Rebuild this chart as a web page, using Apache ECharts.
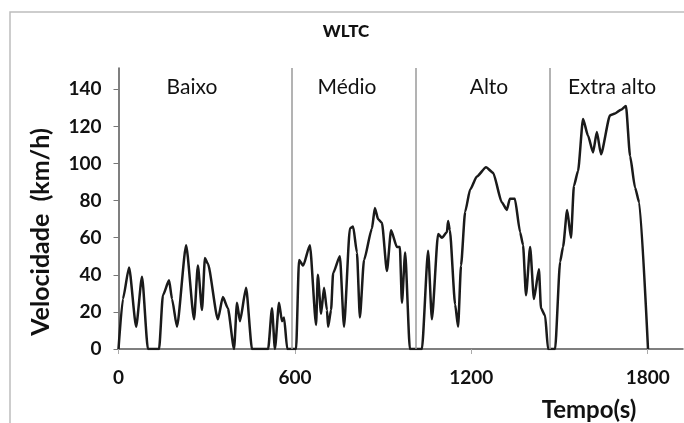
<!DOCTYPE html>
<html><head><meta charset="utf-8">
<script src="https://cdn.jsdelivr.net/npm/echarts@6/dist/echarts.min.js"></script>
<style>html,body{margin:0;padding:0;background:#fff}#c{width:684px;height:423px}</style>
</head><body><div id="c"></div>
<script>
const timeS = [0,15,36,60,80,100,138,151,172,182,199,230,257,270,284,294,304,338,355,372,393,403,413,434,454,509,522,532,546,556,563,574,604,614,628,651,672,678,689,699,709,713,723,730,753,767,787,798,811,821,835,862,872,883,896,913,927,947,957,964,975,991,1032,1053,1066,1087,1100,1117,1121,1127,1145,1155,1165,1179,1196,1219,1250,1274,1304,1321,1331,1348,1366,1376,1386,1400,1413,1430,1437,1451,1461,1485,1502,1512,1526,1539,1549,1563,1580,1597,1614,1627,1641,1672,1689,1709,1726,1740,1757,1771,1801];
const speedKmh = [0,27,44,12,39,0,0,29,37,27,12,56,16,45,21,49,46,16,28,22,0,25,15,33,0,0,22,0,25,15,17,0,0,48,45,56,13,40,19,33,21,12,21,41,50,12,65,66,52,17,48,65,76,70,68,42,64,55,55,25,52,0,0,53,16,62,60,63,69,64,24,12,45,74,86,93,98,95,79,75,81,81,63,56,29,55,27,43,22,18,0,0,47,55,75,60,88,96,124,115,106,117,105,126,127,129,131,104,87,79,0];
const phaseBounds = [588, 1010, 1466];
const phaseNames = ['Baixo', 'Médio', 'Alto', 'Extra alto'];
const xTickValues = [0, 600, 1200, 1800];
const yTickValues = [0, 20, 40, 60, 80, 100, 120, 140];
const titleText = 'WLTC';
const yName = 'Velocidade  (km/h)';
const xName = 'Tempo(s)';

const chart = echarts.init(document.getElementById('c'), null, {renderer: 'canvas'});
const data = timeS.map((t, i) => [t, speedKmh[i]]);
const phaseLabelX = [192, 347, 489, 612];
const option = {
  animation: false,
  backgroundColor: '#fff',
  grid: {left: 118.5, right: 1, top: 68, bottom: 74, containLabel: false},
  xAxis: {
    type: 'value', min: 0, max: 1920, interval: 600,
    axisLine: {show: true, lineStyle: {color: '#555', width: 1.5}},
    axisTick: {show: true, length: 5, lineStyle: {color: '#aaa'},
      customValues: xTickValues},
    axisLabel: {margin: 19, fontFamily: 'Lato', fontWeight: 'bold', fontSize: 19, color: '#111',
      customValues: xTickValues,
      formatter: v => xTickValues.includes(v) ? String(v) : ''},
    splitLine: {show: false}
  },
  yAxis: {
    type: 'value', min: 0, max: 151.5, interval: 20,
    axisLine: {show: true, lineStyle: {color: '#555', width: 1.5}},
    axisTick: {show: true, length: 5, lineStyle: {color: '#777'},
      customValues: yTickValues},
    axisLabel: {margin: 17, fontFamily: 'Lato', fontWeight: 'bold', fontSize: 19, color: '#111',
      customValues: yTickValues,
      formatter: v => yTickValues.includes(v) ? String(v) : ''},
    splitLine: {show: false}
  },
  series: [{
    type: 'line', data: data, symbol: 'none', smooth: 0.2, smoothMonotone: 'x',
    lineStyle: {color: '#1a1a1a', width: 2.5},
    markLine: {
      silent: true, symbol: 'none', label: {show: false},
      lineStyle: {color: '#9a9a9a', width: 1.5, type: 'solid'},
      data: phaseBounds.map(b => ({xAxis: b}))
    }
  }],
  graphic: [
    {type: 'rect', shape: {x: 10, y: 12, width: 700, height: 420}, style: {fill: null, stroke: '#bdbdbd', lineWidth: 1.5}, silent: true},
    {type: 'text', x: 346, y: 32, style: {text: titleText, fontFamily: 'Lato', fontWeight: 900, fontSize: 17, fill: '#111', align: 'center', verticalAlign: 'middle'}},
    ...phaseNames.map((n, i) => ({type: 'text', x: phaseLabelX[i], y: 87, style: {text: n, fontFamily: 'Lato', fontSize: 21, fill: '#111', align: 'center', verticalAlign: 'middle'}})),
    {type: 'text', x: 41, y: 232, rotation: Math.PI / 2, style: {text: yName, fontFamily: 'Lato', fontWeight: 'bold', fontSize: 25, fill: '#111', align: 'center', verticalAlign: 'middle'}},
    {type: 'text', x: 589, y: 410, style: {text: xName, fontFamily: 'Lato', fontWeight: 'bold', fontSize: 24, fill: '#111', align: 'center', verticalAlign: 'middle'}}
  ]
};
chart.setOption(option);
</script>
</body></html>
